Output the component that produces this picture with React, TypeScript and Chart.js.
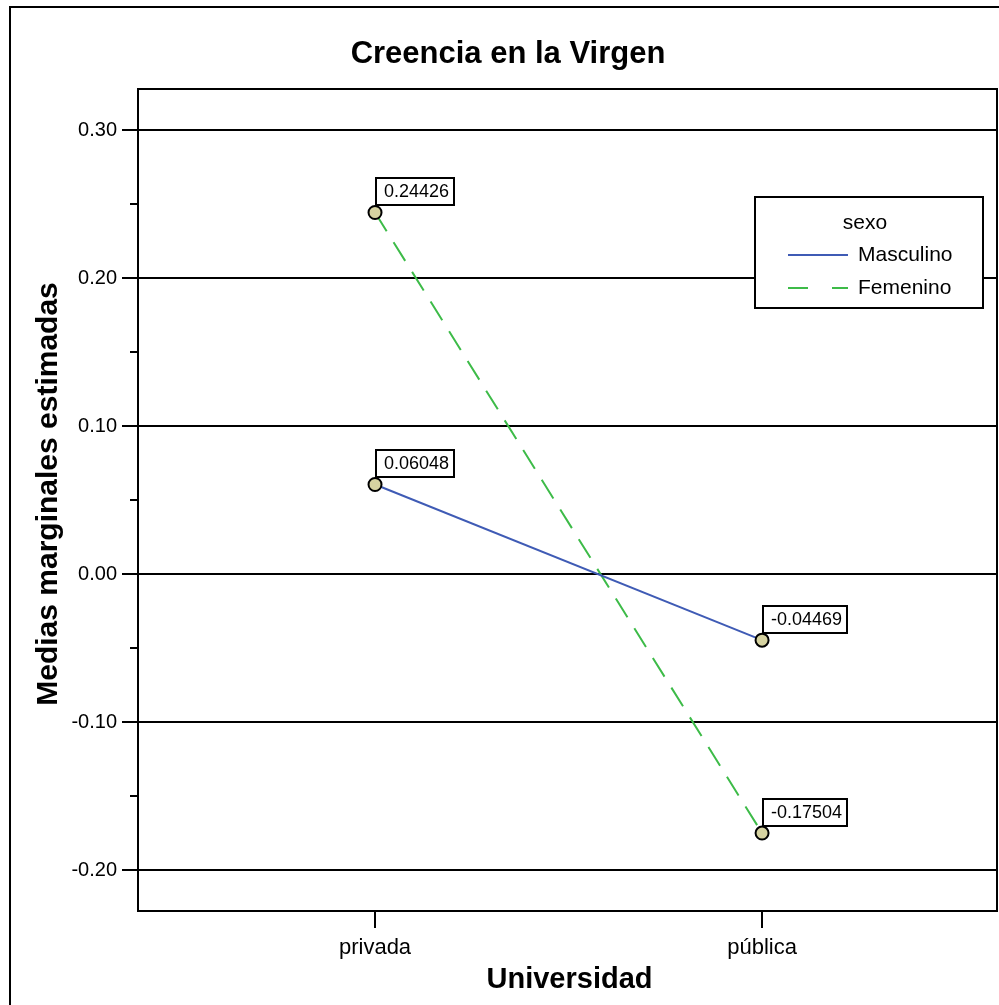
import React, { useEffect, useRef } from 'react';
import { Chart, registerables } from 'chart.js';

Chart.register(...registerables);

const categories = ['privada', 'pública'];
const seriesNames = ['Masculino', 'Femenino'];
const masculino = [0.06048, -0.04469];
const femenino = [0.24426, -0.17504];
const yTicks = [-0.2, -0.1, 0, 0.1, 0.2, 0.3];
const yMinorTicks = [-0.15, -0.05, 0.05, 0.15, 0.25];
const chartTitle = 'Creencia en la Virgen';
const xTitle = 'Universidad';
const yTitle = 'Medias marginales estimadas';
const legendTitle = 'sexo';

const FONT = '"Liberation Sans", Arial, Helvetica, sans-serif';
const BLUE = '#3f5bb5';
const GREEN = '#3dbb48';
const POINT_FILL = '#d6d3a1';

const decor = {
  id: 'decor',
  beforeDatasetsDraw(chart: any) {
    const { ctx, chartArea: a } = chart;
    const ys = chart.scales.y;
    ctx.save();
    ctx.strokeStyle = '#000';
    ctx.lineWidth = 2;
    ctx.strokeRect(a.left, a.top, a.right - a.left, a.bottom - a.top);
    yMinorTicks.forEach((v) => {
      const y = Math.round(ys.getPixelForValue(v));
      ctx.beginPath();
      ctx.moveTo(a.left - 8, y);
      ctx.lineTo(a.left, y);
      ctx.stroke();
    });
    ctx.restore();
  },
  afterDraw(chart: any) {
    const { ctx, chartArea: a } = chart;
    ctx.save();
    ctx.strokeStyle = '#000';
    ctx.lineWidth = 2;
    ctx.strokeRect(10, 7, 1100, 1100);

    ctx.fillStyle = '#000';
    ctx.font = `bold 31px ${FONT}`;
    ctx.textAlign = 'center';
    ctx.textBaseline = 'alphabetic';
    ctx.fillText(chartTitle, 508, 63);

    ctx.font = `bold 29px ${FONT}`;
    ctx.fillText(xTitle, (a.left + a.right) / 2 + 2, 988);

    ctx.save();
    ctx.translate(57, 494);
    ctx.rotate(-Math.PI / 2);
    ctx.font = `bold 30px ${FONT}`;
    ctx.fillText(yTitle, 0, 0);
    ctx.restore();

    const lx = 755, ly = 197, lw = 228, lh = 111;
    ctx.fillStyle = '#fff';
    ctx.fillRect(lx, ly, lw, lh);
    ctx.strokeStyle = '#000';
    ctx.lineWidth = 2;
    ctx.strokeRect(lx, ly, lw, lh);
    ctx.fillStyle = '#000';
    ctx.font = `21px ${FONT}`;
    ctx.textAlign = 'center';
    ctx.textBaseline = 'middle';
    ctx.fillText(legendTitle, 865, 223);
    const colors = [BLUE, GREEN];
    const dashes = [[], [20, 24]];
    [255, 288].forEach((yy, i) => {
      ctx.strokeStyle = colors[i];
      ctx.lineWidth = 2;
      ctx.setLineDash(dashes[i]);
      ctx.beginPath();
      ctx.moveTo(788, yy);
      ctx.lineTo(848, yy);
      ctx.stroke();
      ctx.setLineDash([]);
      ctx.fillStyle = '#000';
      ctx.textAlign = 'left';
      ctx.fillText(seriesNames[i], 858, yy);
    });

    ctx.font = `18px ${FONT}`;
    ctx.textBaseline = 'middle';
    ctx.textAlign = 'left';
    const sets = [masculino, femenino];
    sets.forEach((vals, di) => {
      const meta = chart.getDatasetMeta(di);
      meta.data.forEach((pt: any, j: number) => {
        const txt = vals[j].toFixed(5);
        const tw = ctx.measureText(txt).width;
        const bx = Math.round(pt.x) + 1;
        const bh = 27;
        const by = Math.round(pt.y) - 7 - bh;
        const bw = Math.round(tw) + 13;
        ctx.fillStyle = '#fff';
        ctx.fillRect(bx, by, bw, bh);
        ctx.strokeStyle = '#000';
        ctx.lineWidth = 2;
        ctx.strokeRect(bx, by, bw, bh);
        ctx.fillStyle = '#000';
        ctx.fillText(txt, bx + 8, by + bh / 2 + 1);
      });
    });
    ctx.restore();
  },
};

export default function App() {
  const ref = useRef<HTMLCanvasElement>(null);
  useEffect(() => {
    document.body.style.margin = '0';
    const canvas = ref.current!;
    const mk = (vals: number[]) => vals.map((v, i) => ({ x: i, y: v }));
    const chart = new Chart(canvas, {
      type: 'line',
      data: {
        datasets: [
          {
            label: seriesNames[0],
            data: mk(masculino),
            borderColor: BLUE,
            borderWidth: 2,
            pointRadius: 6.5,
            pointBackgroundColor: POINT_FILL,
            pointBorderColor: '#000',
            pointBorderWidth: 2,
            fill: false,
          },
          {
            label: seriesNames[1],
            data: mk(femenino),
            borderColor: GREEN,
            borderWidth: 2,
            borderDash: [22, 13],
            pointRadius: 6.5,
            pointBackgroundColor: POINT_FILL,
            pointBorderColor: '#000',
            pointBorderWidth: 2,
            fill: false,
          },
        ],
      },
      options: {
        responsive: false,
        devicePixelRatio: 1,
        animation: false,
        layout: { autoPadding: false, padding: { top: 89, right: 2, left: 0, bottom: 0 } },
        plugins: {
          legend: { display: false },
          title: { display: false },
          tooltip: { enabled: false },
        },
        scales: {
          x: {
            type: 'linear',
            min: -0.6124,
            max: 1.607,
            afterBuildTicks: (s: any) => {
              s.ticks = categories.map((_, i) => ({ value: i }));
            },
            afterFit: (s: any) => {
              s.height = 94;
              s.paddingLeft = 0;
              s.paddingRight = 0;
            },
            grid: {
              drawOnChartArea: false,
              drawTicks: true,
              tickLength: 17,
              tickWidth: 2,
              tickColor: '#000',
              color: '#000',
              lineWidth: 2,
            },
            border: { display: true, color: '#000', width: 2 },
            ticks: {
              callback: (v: any) => categories[Number(v)] ?? '',
              font: { family: FONT, size: 22 },
              color: '#000',
              padding: 7,
              maxRotation: 0,
              autoSkip: false,
            },
          },
          y: {
            type: 'linear',
            min: -0.2277,
            max: 0.3277,
            afterBuildTicks: (s: any) => {
              s.ticks = yTicks.map((v) => ({ value: v }));
            },
            afterFit: (s: any) => {
              s.width = 138;
            },
            grid: {
              color: '#000',
              lineWidth: 2,
              tickLength: 16,
              drawTicks: true,
            },
            border: { display: true, color: '#000', width: 2 },
            ticks: {
              callback: (v: any) => Number(v).toFixed(2),
              font: { family: FONT, size: 20 },
              color: '#000',
              padding: 5,
            },
          },
        },
      } as any,
      plugins: [decor],
    });
    return () => chart.destroy();
  }, []);
  return (
    <canvas
      ref={ref}
      width={999}
      height={1005}
      style={{ position: 'absolute', left: 0, top: 0, display: 'block', width: 999, height: 1005 }}
    />
  );
}
